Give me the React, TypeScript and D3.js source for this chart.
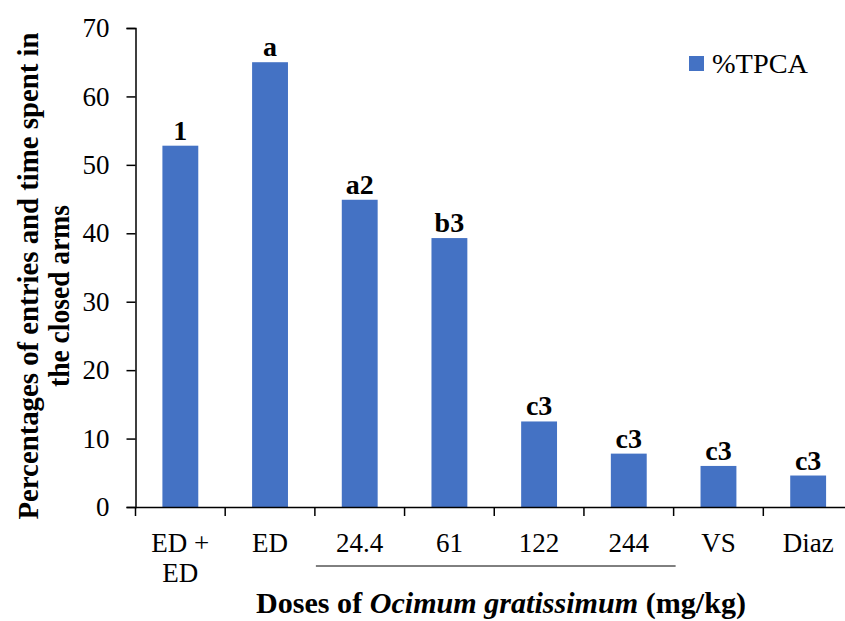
import React, { useRef, useEffect } from 'react';
import { select, scaleBand, scaleLinear, axisLeft, axisBottom } from 'd3';

const categories = ['ED + ED', 'ED', '24.4', '61', '122', '244', 'VS', 'Diaz'];
const tpcaValues = [52.8, 65.0, 44.9, 39.3, 12.5, 7.8, 6.0, 4.6];
const significance = ['1', 'a', 'a2', 'b3', 'c3', 'c3', 'c3', 'c3'];
const yTicks = [0, 10, 20, 30, 40, 50, 60, 70];
const seriesName = '%TPCA';

const FONT = 'Times New Roman, Liberation Serif, serif';
const BAR = '#4472C4';

const App = () => {
  const svgRef = useRef(null);

  useEffect(() => {
    const svg = select(svgRef.current);
    svg.selectAll('*').remove();

    const xScale = scaleBand()
      .domain(categories)
      .range([135.5, 853])
      .paddingInner(0.6)
      .paddingOuter(0.3);

    const yScale = scaleLinear().domain([0, 70]).range([507, 28]);

    // y axis
    const yAxis = axisLeft(yScale).tickValues(yTicks).tickSize(9).tickPadding(17);
    const gy = svg.append('g').attr('transform', 'translate(135.5,0)').call(yAxis);
    gy.attr('font-family', null).attr('font-size', null);
    gy.select('.domain').attr('stroke', '#000').attr('stroke-width', 1.5);
    gy.selectAll('.tick line').attr('stroke', '#000').attr('stroke-width', 1.5);
    gy.selectAll('.tick text').attr('font-size', 27).attr('fill', '#000');

    // bars
    svg
      .selectAll('.bar')
      .data(tpcaValues)
      .join('rect')
      .attr('class', 'bar')
      // @ts-ignore
      .attr('x', (value, index) => xScale(categories[index]))
      .attr('width', xScale.bandwidth())
      .attr('y', (value) => yScale(value))
      .attr('height', (value) => 507 - yScale(value))
      .attr('fill', BAR);

    // significance letters
    svg
      .selectAll('.sig')
      .data(tpcaValues)
      .join('text')
      .attr('class', 'sig')
      // @ts-ignore
      .attr('x', (value, index) => xScale(categories[index]) + xScale.bandwidth() / 2)
      .attr('y', (value) => yScale(value) - 6)
      .attr('text-anchor', 'middle')
      .attr('font-weight', 'bold')
      .attr('font-size', 28)
      .text((value, index) => significance[index]);

    // x axis line + boundary ticks
    const step = xScale.step();
    const xAxis = axisBottom(xScale).tickSize(0).tickFormat(() => '');
    const gx = svg.append('g').attr('transform', 'translate(0,507)').call(xAxis);
    gx.select('.domain').attr('stroke', '#000').attr('stroke-width', 1.5);
    gx.selectAll('.tick').remove();
    gx.selectAll('.bound')
      .data(categories)
      .join('line')
      .attr('class', 'bound')
      // @ts-ignore
      .attr('x1', (d) => xScale(d) - step * 0.3)
      // @ts-ignore
      .attr('x2', (d) => xScale(d) - step * 0.3)
      .attr('y1', 0)
      .attr('y2', 9)
      .attr('stroke', '#000')
      .attr('stroke-width', 1.5);

    // category labels (multi-line)
    const labels = svg
      .selectAll('.cat')
      .data(categories)
      .join('text')
      .attr('class', 'cat')
      .attr('text-anchor', 'middle')
      .attr('font-size', 27);
    labels.each(function (d) {
      // @ts-ignore
      const cx = xScale(d) + xScale.bandwidth() / 2;
      const parts = d === 'ED + ED' ? ['ED +', 'ED'] : [d];
      const t = select(this);
      parts.forEach((p, i) => {
        t.append('tspan').attr('x', cx).attr('y', 552 + i * 30).text(p);
      });
    });

    // bracket under the doses
    svg
      .append('line')
      // @ts-ignore
      .attr('x1', xScale('24.4') - step * 0.3 + 1)
      // @ts-ignore
      .attr('x2', xScale('244') + xScale.bandwidth() + step * 0.3 + 2)
      .attr('y1', 566)
      .attr('y2', 566)
      .attr('stroke', '#000')
      .attr('stroke-width', 1);

    // x title
    const xt = svg
      .append('text')
      .attr('x', 501)
      .attr('y', 613)
      .attr('text-anchor', 'middle')
      .attr('font-weight', 'bold')
      .attr('font-size', 30)
      .attr('textLength', 490)
      .attr('lengthAdjust', 'spacingAndGlyphs');
    xt.append('tspan').text('Doses of ');
    xt.append('tspan').attr('font-style', 'italic').text('Ocimum gratissimum');
    xt.append('tspan').text(' (mg/kg)');

    // y title
    const yt = svg
      .append('g')
      .attr('transform', 'rotate(-90)')
      .attr('font-weight', 'bold')
      .attr('font-size', 29)
      .attr('text-anchor', 'middle');
    yt.append('text')
      .attr('x', -276)
      .attr('y', 38)
      .attr('textLength', 487)
      .attr('lengthAdjust', 'spacingAndGlyphs')
      .text('Percentages of entries and time spent in');
    yt.append('text')
      .attr('x', -296)
      .attr('y', 69)
      .attr('textLength', 182)
      .attr('lengthAdjust', 'spacingAndGlyphs')
      .text('the closed arms');

    // legend
    svg.append('rect').attr('x', 689).attr('y', 56).attr('width', 15).attr('height', 15).attr('fill', BAR);
    svg
      .append('text')
      .attr('x', 712)
      .attr('y', 73)
      .attr('font-size', 27)
      .attr('textLength', 96)
      .attr('lengthAdjust', 'spacingAndGlyphs')
      .text(seriesName);
  }, []);

  return (
    <svg
      ref={svgRef}
      width={845}
      height={621}
      fontFamily={FONT}
      style={{ position: 'absolute', left: 0, top: 0, background: '#fff' }}
    />
  );
};

export default App;
